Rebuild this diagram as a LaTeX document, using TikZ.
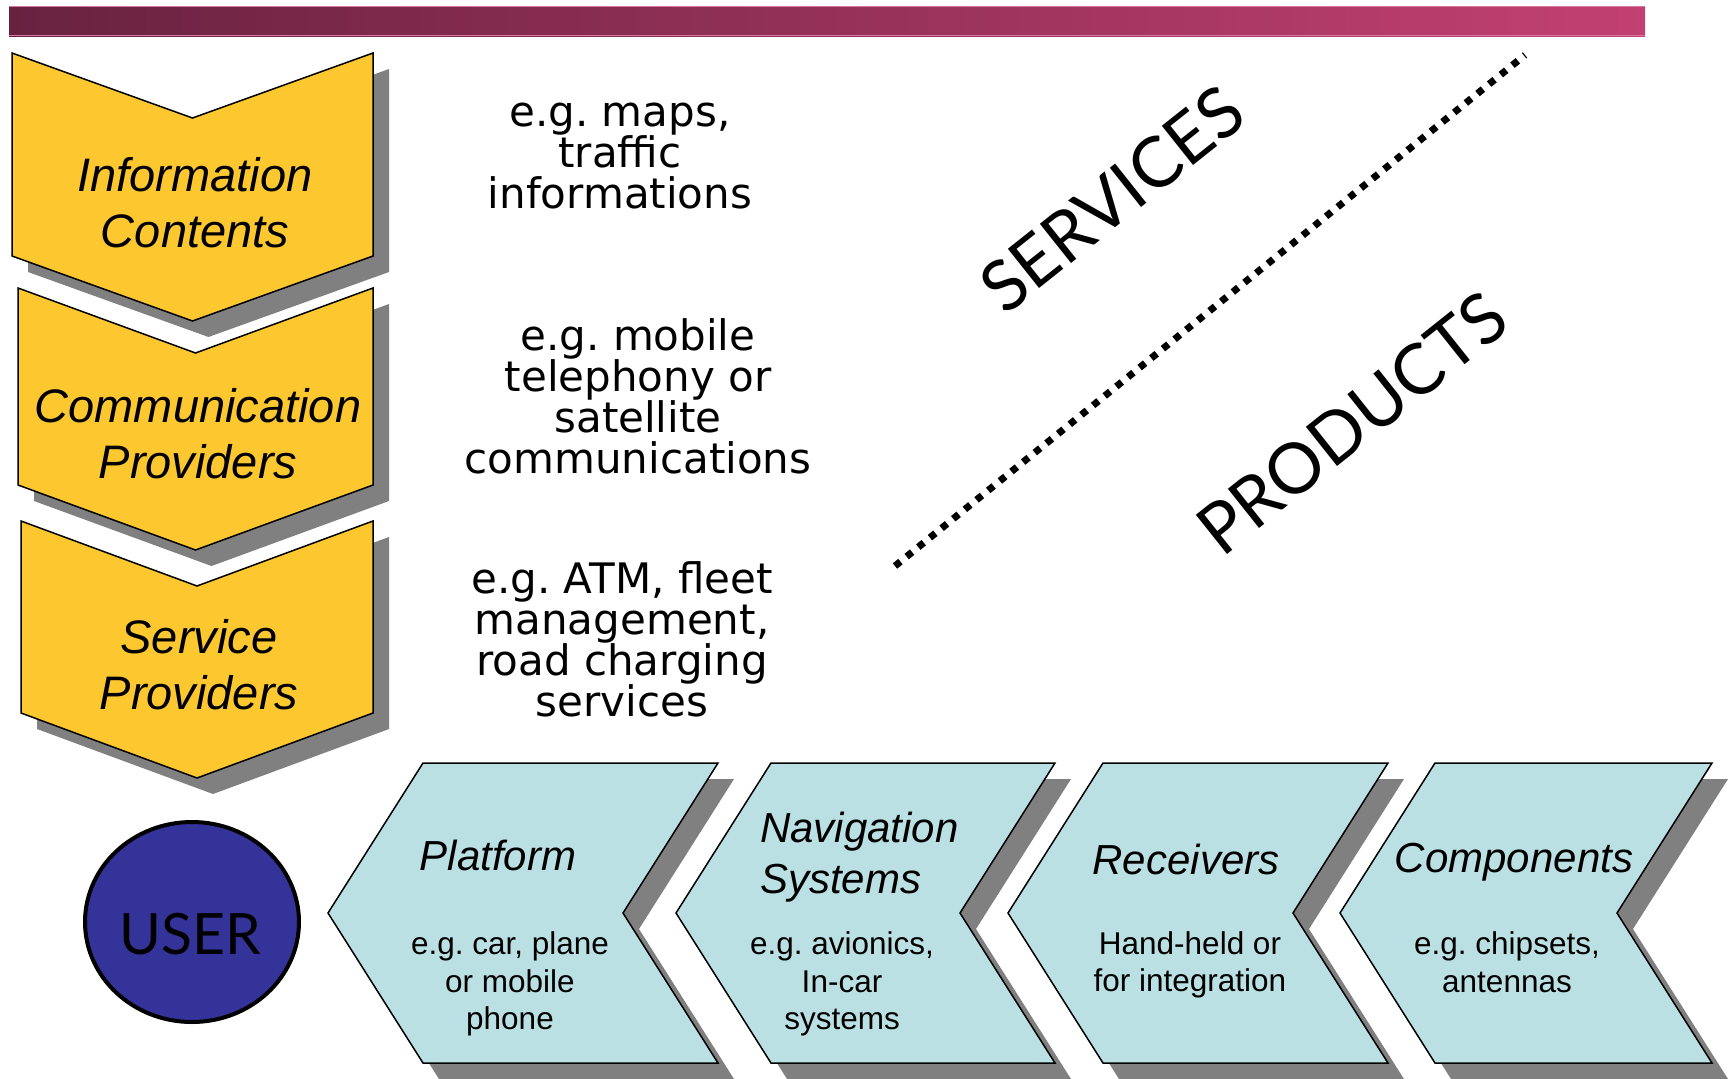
\documentclass[tikz,border=0pt]{standalone}
\usepackage{fontspec}
\setmainfont{Liberation Sans}
\newfontfamily\egfont{DejaVu Sans}
\newfontfamily\capsfont{Lato}
\usetikzlibrary{calc}
\definecolor{barL}{RGB}{104,34,64}
\definecolor{barR}{RGB}{194,64,114}
\definecolor{barEdge}{RGB}{214,120,160}
\definecolor{gold}{RGB}{252,199,47}
\definecolor{ice}{RGB}{187,224,227}
\definecolor{userblue}{RGB}{51,51,153}
\definecolor{shadowgray}{RGB}{128,128,128}
% downward chevron: (left, right, top, bottom of side)
\def\vchevron[#1](#2,#3,#4,#5){\path[#1] (#2,#4) -- ({(#2+#3)/2},{#4+65}) -- (#3,#4) -- (#3,#5) -- ({(#2+#3)/2},{#5+65}) -- (#2,#5) -- cycle;}
% leftward chevron: (tip x, width)
\def\hchevron[#1](#2,#3){\path[#1] (#2,913) -- ({#2+95},763) -- ({#2+95+#3},763) -- ({#2+#3},913) -- ({#2+95+#3},1063) -- ({#2+95},1063) -- cycle;}

\begin{document}
\begin{tikzpicture}[x=1pt,y=-1pt,
	yellowbox/.style={fill=gold,draw=black,line width=1.5pt},
	bluebox/.style={fill=ice,draw=black,line width=1.5pt},
	shadowbox/.style={fill=shadowgray,draw=none,shift={(16,16)}},
	ytitle/.style={inner sep=0pt,align=center,font=\itshape\fontsize{47}{56}\selectfont},
	btitle/.style={inner sep=0pt,align=center,font=\itshape\fontsize{42}{51}\selectfont},
	bdesc/.style={inner sep=0pt,align=center,font=\fontsize{31.5}{37.5}\selectfont},
	egtext/.style={inner sep=0pt,align=center,font=\egfont\fontsize{42}{41}\selectfont},
	bigcaps/.style={inner sep=0pt,rotate=38.5,font=\capsfont\fontsize{70}{70}\selectfont}]
	%%%%% START %%%%%
	\useasboundingbox (0,0) rectangle (1733,1079);
	
	% title bar
	\shade[left color=barL, right color=barR] (9,6) rectangle (1645,36);
	\draw[barEdge, line width=1.5pt] (9,6.5) -- (1645,6.5);
	\draw[barEdge, line width=1.5pt] (9,35.5) -- (1645,35.5);
	
	% service chain
	\vchevron[shadowbox](12,373,53,256)
	\vchevron[yellowbox](12,373,53,256)
	\vchevron[shadowbox](18,373,288,485)
	\vchevron[yellowbox](18,373,288,485)
	\vchevron[shadowbox](21,373,521,713)
	\vchevron[yellowbox](21,373,521,713)
	
	\node[ytitle] (info) at (195,203) {Information\\Contents};
	\node[ytitle] (comm) at (198,434) {Communication\\Providers};
	\node[ytitle] (serv) at (199,665) {Service\\Providers};
	
	\node[egtext] (infoeg) at (620,156) {e.g.\ maps,\\traffic\\informations};
	\node[egtext] (commeg) at (638,396) {e.g.\ mobile\\telephony or\\satellite\\communications};
	\node[egtext] (serveg) at (622,639) {e.g.\ ATM, fleet\\management,\\road charging\\services};
	
	% divider
	\draw[line width=7pt, dash pattern=on 7pt off 8pt] (895,566) -- (1525,55);
	\node[bigcaps] (services) at (1112,199) {SERVICES};
	\node[bigcaps] (products) at (1352,423) {PRODUCTS};
	
	% product chain
	\hchevron[shadowbox](328,295)
	\hchevron[bluebox](328,295)
	\hchevron[shadowbox](676,284)
	\hchevron[bluebox](676,284)
	\hchevron[shadowbox](1008,285)
	\hchevron[bluebox](1008,285)
	\hchevron[shadowbox](1340,277)
	\hchevron[bluebox](1340,277)
	
	\node[btitle] (platform) at (498,855) {Platform};
	\node[btitle, align=left, anchor=west] (navsys) at (760,857) {Navigation\\Systems};
	\node[btitle] (receivers) at (1186,859) {Receivers};
	\node[btitle] (components) at (1514,862) {Components};
	
	\node[bdesc] (platformeg) at (510,984) {e.g.\ car, plane\\or mobile\\phone};
	\node[bdesc] (naveg) at (842,984) {e.g.\ avionics,\\In-car\\systems};
	\node[bdesc] (receg) at (1190,965) {Hand-held or\\for integration};
	\node[bdesc] (compeg) at (1507,962) {e.g.\ chipsets,\\antennas};
	
	% user
	\draw[fill=userblue, line width=4pt] (192,922) ellipse [x radius=107, y radius=100];
	\node[inner sep=0pt, font=\capsfont\fontsize{57}{57}\selectfont] (user) at (190,934) {USER};
	%%%%% END %%%%%
\end{tikzpicture}
\end{document}
